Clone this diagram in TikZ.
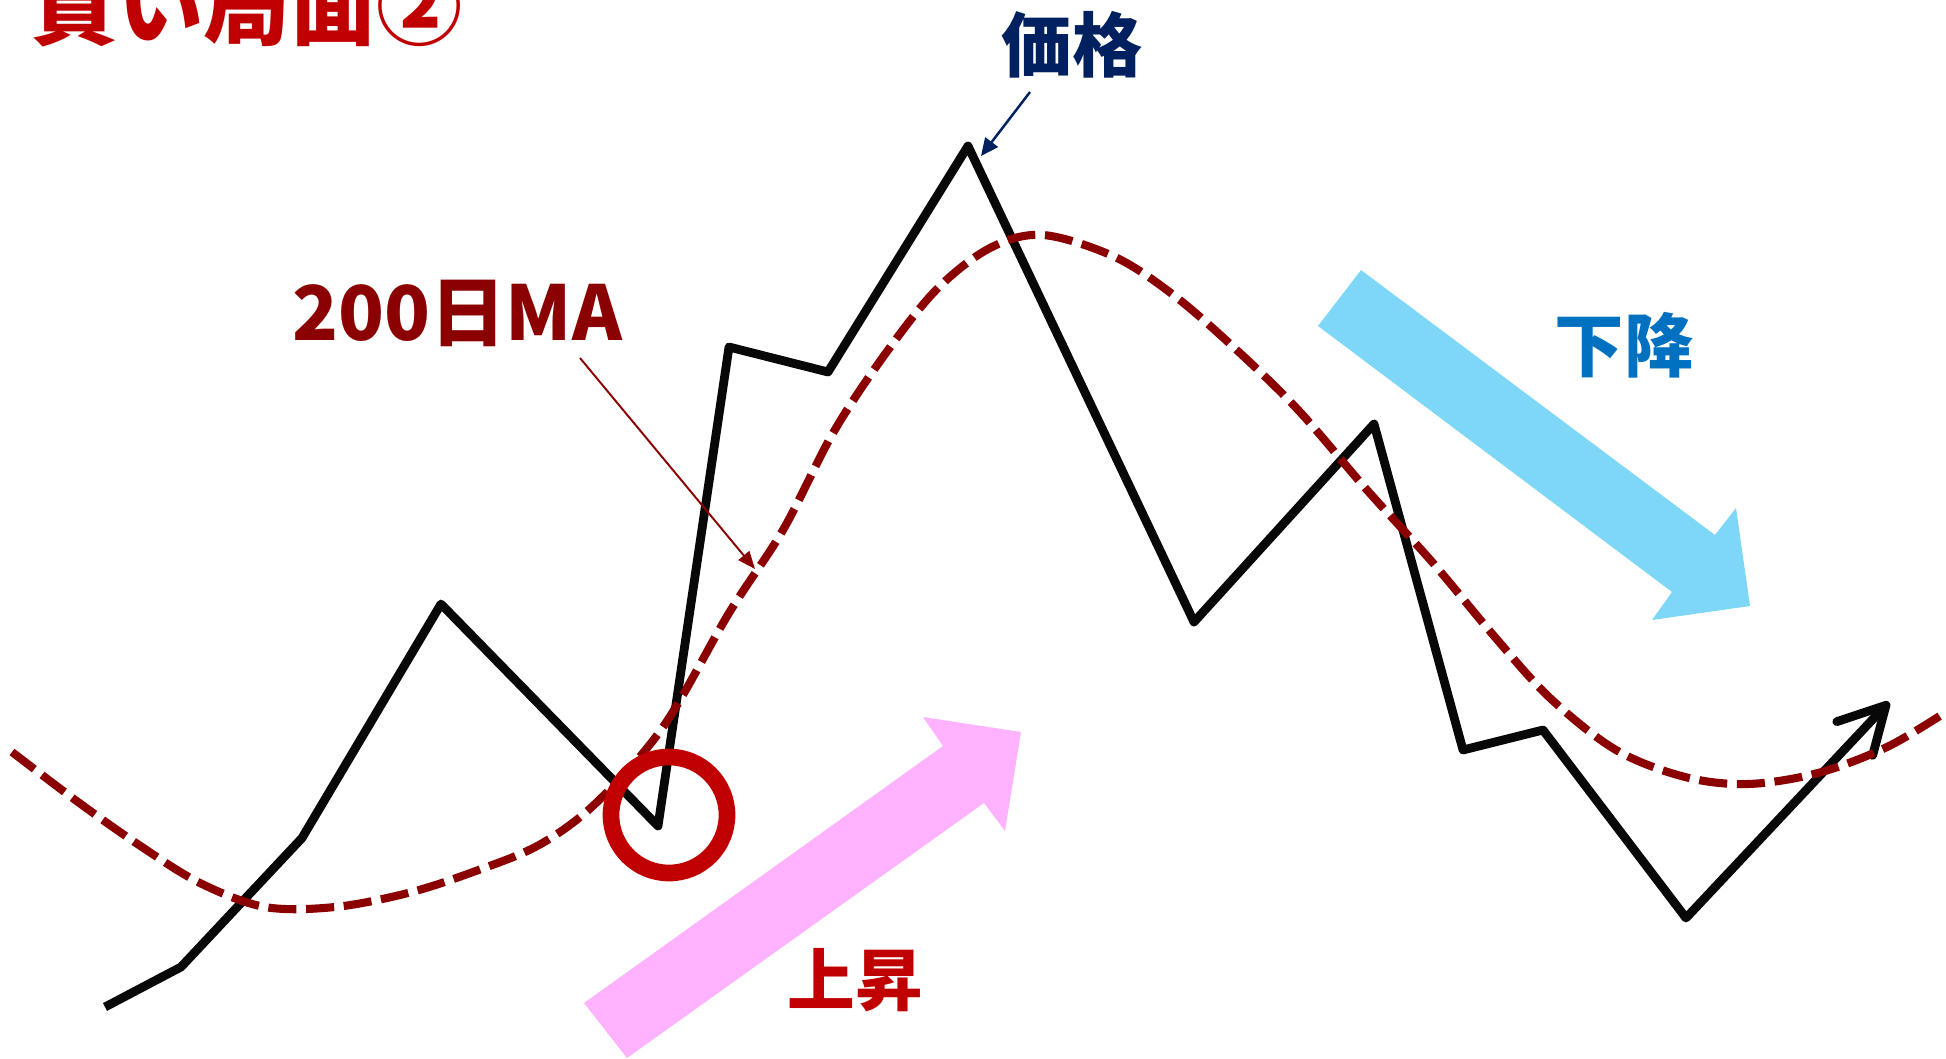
\documentclass[tikz,border=0pt]{standalone}
\usepackage{fontspec}
\newfontfamily\jpfont{Noto Sans CJK JP}
\usetikzlibrary{arrows.meta}

\definecolor{rojo}{HTML}{C00000}
\definecolor{guinda}{HTML}{8B0000}
\definecolor{marino}{HTML}{002060}
\definecolor{azul}{HTML}{0070C0}
\definecolor{celeste}{HTML}{7FD7F7}
\definecolor{rosa}{HTML}{FFB3FF}

\tikzset{
    etiqueta/.style={inner sep=0pt, font=\jpfont\bfseries\fontsize{#1}{#1}\selectfont},
    precio/.style={line width=5pt, line join=round, black!97},
    media/.style={guinda, line width=4.6pt, dash pattern=on 16pt off 5.5pt},
}

\begin{document}
\begin{tikzpicture}[x=0.2mm, y=-0.2mm]
    % Marco
    \useasboundingbox (0,0) rectangle (1946,1059);

    % Flechas de tendencia
    \fill[rosa] (584,1003) -- (943,746) -- (923,717) -- (1021,732) -- (1005,831)
        -- (984,803) -- (627,1058) -- cycle;
    \fill[celeste] (1361,270) -- (1715,535) -- (1736,508) -- (1750,606) -- (1652,620)
        -- (1672,592) -- (1318,326) -- cycle;

    % Precio
    \draw[precio, -{Straight Barb[length=26pt, width=28pt, round]}]
        (105,1007) -- (181,967) -- (302,838) -- (441,604) -- (658,826) -- (729,347)
        -- (828,372) -- (968,146) -- (1194,622) -- (1374,424) -- (1463,750)
        -- (1543,730) -- (1686,918) -- (1889,702);

    % Media movil de 200 dias
    \draw[media] plot[smooth, tension=0.55] coordinates {
        (12,752) (78,802) (139,845) (200,883) (265,907) (335,907) (408,893)
        (473,872) (539,845) (596,803) (663,727) (729,613) (783,530) (833,433)
        (883,357) (936,290) (990,248) (1043,235) (1115,257) (1176,297)
        (1241,354) (1300,412) (1367,490) (1433,563) (1494,636) (1550,698)
        (1616,750) (1685,777) (1748,784) (1818,773) (1887,747) (1946,712)};

    % Cruce
    \draw[rojo, line width=9.5pt] (669,815) circle (58);

    % Etiquetas
    \node[etiqueta=49pt, rojo] (titulo) at (247,6) {買い局面②};
    \node[etiqueta=40pt, marino] (precio-txt) at (1072,45) {価格};
    \node[etiqueta=43pt, guinda] (media-txt) at (457,313) {200日MA};
    \node[etiqueta=38.5pt, rojo] (sube-txt) at (855,980) {上昇};
    \node[etiqueta=39.5pt, azul] (baja-txt) at (1624,345) {下降};

    % Flechas de las etiquetas
    \coordinate (precio-ini) at (1030,92);
    \coordinate (cima) at (981,156);
    \draw[marino, line width=1.4pt, -{Triangle[length=10pt, width=9pt]}] (precio-ini) -- (cima);
    \coordinate (media-ini) at (580,358);
    \coordinate (media-pt) at (755,569);
    \draw[guinda, line width=1.1pt, -{Triangle[length=10pt, width=8pt]}] (media-ini) -- (media-pt);
\end{tikzpicture}
\end{document}
